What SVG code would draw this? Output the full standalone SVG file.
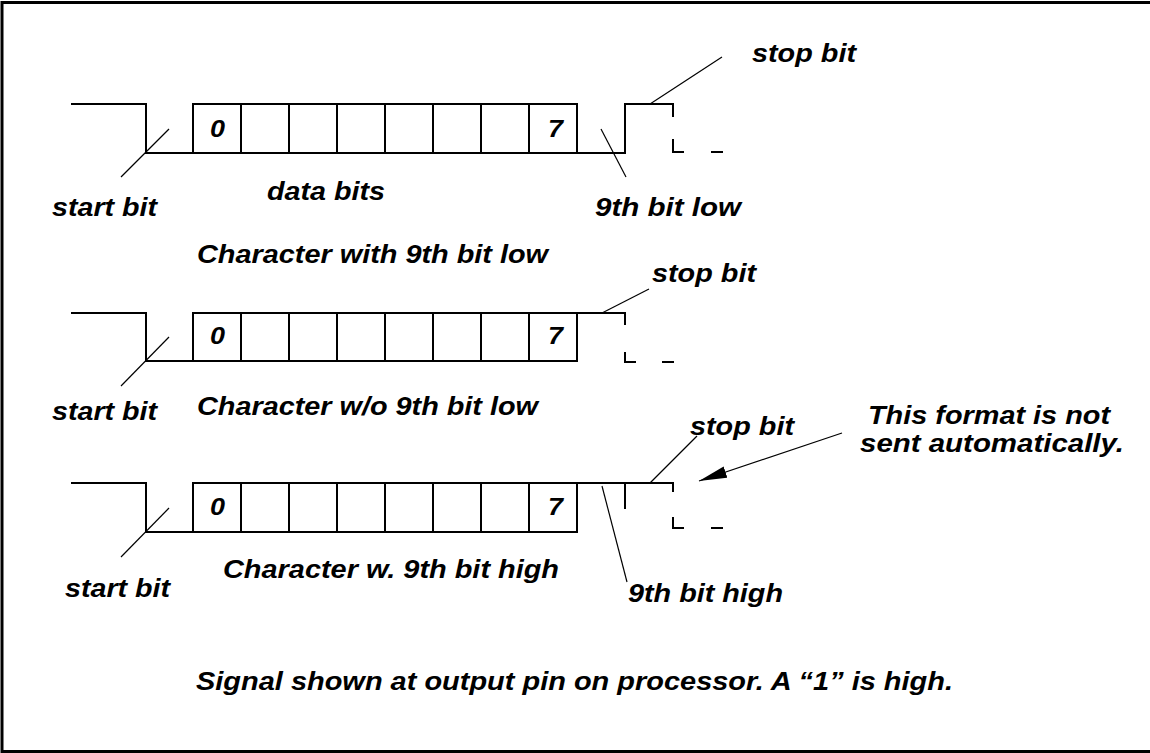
<svg xmlns="http://www.w3.org/2000/svg" width="1150" height="753" viewBox="0 0 1150 753">
<style>
.sig{fill:none;stroke:#000;stroke-width:2;stroke-linecap:square}
.ld{fill:none;stroke:#000;stroke-width:1.2}
.t{font-family:"Liberation Sans",Arial,sans-serif;font-weight:bold;font-style:italic;font-size:26px;fill:#000}
.d{font-family:"Liberation Sans",Arial,sans-serif;font-weight:bold;font-style:italic;font-size:24px;fill:#000}
</style>
<defs>
<marker id="ah" markerUnits="userSpaceOnUse" markerWidth="30" markerHeight="14" refX="28" refY="6" orient="auto">
<path d="M0,0 L28,6 L0,12 z" fill="#000"/>
</marker>
</defs>
<rect x="2" y="2.5" width="1151" height="749" fill="#fff" stroke="#000" stroke-width="3"/>

<g id="row1">
<path class="sig" d="M72,104 H146 V153 H625 V104 H673 V116 M673,140 V152 H683 M712,152 H722"/>
<path class="sig" d="M193,153 V104 H577 V153 M241,104 V153 M289,104 V153 M337,104 V153 M385,104 V153 M433,104 V153 M481,104 V153 M529,104 V153"/>
<text class="d" x="210" y="137" textLength="15" lengthAdjust="spacingAndGlyphs">0</text>
<text class="d" x="548" y="137" textLength="15" lengthAdjust="spacingAndGlyphs">7</text>
</g>

<g id="row2">
<path class="sig" d="M72,313 H146 V361 H577 M625,353 V362 H635 M663,362 H673"/>
<path class="sig" d="M193,361 V313 H625 V324 M241,313 V361 M289,313 V361 M337,313 V361 M385,313 V361 M433,313 V361 M481,313 V361 M529,313 V361 M577,313 V361"/>
<text class="d" x="210" y="344" textLength="15" lengthAdjust="spacingAndGlyphs">0</text>
<text class="d" x="548" y="344" textLength="15" lengthAdjust="spacingAndGlyphs">7</text>
</g>

<g id="row3">
<path class="sig" d="M72,483 H146 V532 H577 M673,518 V528 H683 M712,528 H722 M625,483 V508"/>
<path class="sig" d="M193,532 V483 H673 V491 M241,483 V532 M289,483 V532 M337,483 V532 M385,483 V532 M433,483 V532 M481,483 V532 M529,483 V532 M577,483 V532"/>
<text class="d" x="210" y="515" textLength="15" lengthAdjust="spacingAndGlyphs">0</text>
<text class="d" x="548" y="515" textLength="15" lengthAdjust="spacingAndGlyphs">7</text>
</g>

<g id="connectors">
<line class="ld" x1="169" y1="129" x2="121" y2="177"/>
<line class="ld" x1="601" y1="129" x2="626" y2="177"/>
<line class="ld" x1="650" y1="104" x2="722" y2="57"/>
<line class="ld" x1="169" y1="337" x2="121" y2="386"/>
<line class="ld" x1="602" y1="313" x2="649" y2="289"/>
<line class="ld" x1="169" y1="508" x2="121" y2="557"/>
<line class="ld" x1="602" y1="486" x2="627" y2="582"/>
<line class="ld" x1="650" y1="483" x2="697" y2="436"/>
<line class="ld" x1="842" y1="433" x2="699" y2="481" marker-end="url(#ah)"/>
</g>

<g id="labels">
<text class="t" x="752" y="62" textLength="104" lengthAdjust="spacingAndGlyphs">stop bit</text>
<text class="t" x="52" y="216" textLength="105" lengthAdjust="spacingAndGlyphs">start bit</text>
<text class="t" x="267" y="200" textLength="118" lengthAdjust="spacingAndGlyphs">data bits</text>
<text class="t" x="595" y="216" textLength="146" lengthAdjust="spacingAndGlyphs">9th bit low</text>
<text class="t" x="197" y="263" textLength="351" lengthAdjust="spacingAndGlyphs">Character with 9th bit low</text>
<text class="t" x="652" y="282" textLength="104" lengthAdjust="spacingAndGlyphs">stop bit</text>
<text class="t" x="52" y="420" textLength="105" lengthAdjust="spacingAndGlyphs">start bit</text>
<text class="t" x="197" y="415" textLength="341" lengthAdjust="spacingAndGlyphs">Character w/o 9th bit low</text>
<text class="t" x="690" y="435" textLength="104" lengthAdjust="spacingAndGlyphs">stop bit</text>
<text class="t" x="65" y="597" textLength="105" lengthAdjust="spacingAndGlyphs">start bit</text>
<text class="t" x="223" y="578" textLength="336" lengthAdjust="spacingAndGlyphs">Character w. 9th bit high</text>
<text class="t" x="628" y="602" textLength="155" lengthAdjust="spacingAndGlyphs">9th bit high</text>
<text class="t" x="868" y="424" textLength="242" lengthAdjust="spacingAndGlyphs">This format is not</text>
<text class="t" x="860" y="452" textLength="264" lengthAdjust="spacingAndGlyphs">sent automatically.</text>
<text class="t" x="196" y="690" textLength="757" lengthAdjust="spacingAndGlyphs">Signal shown at output pin on processor. A “1” is high.</text>
</g>
</svg>
